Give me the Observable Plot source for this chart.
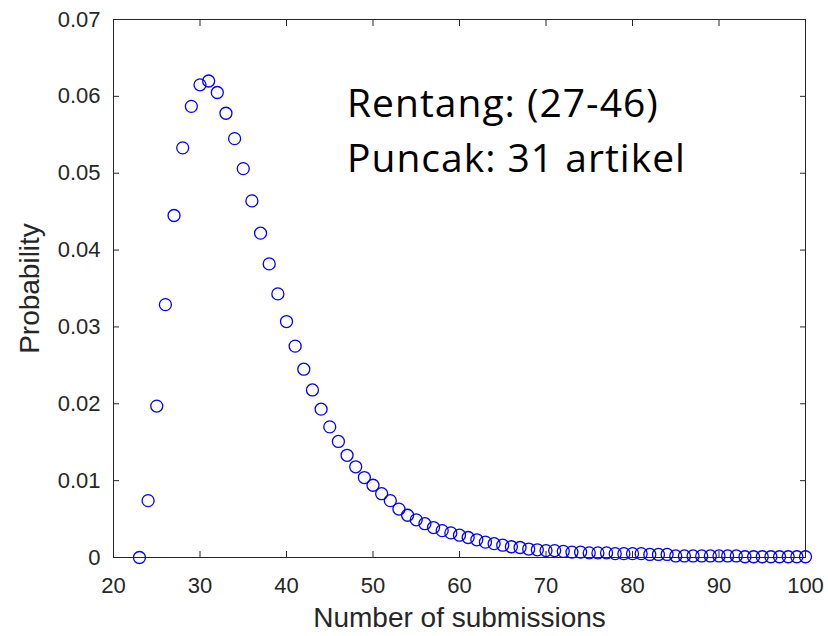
<!DOCTYPE html>
<html><head><meta charset="utf-8">
<script src="https://cdn.jsdelivr.net/npm/d3@7"></script>
<script src="https://cdn.jsdelivr.net/npm/@observablehq/plot@0.6"></script>
<style>body{margin:0;background:#fff;} #chart svg{display:block;}</style>
</head><body><div id="chart"></div>
<script>
const submissions = [23,24,25,26,27,28,29,30,31,32,33,34,35,36,37,38,39,40,41,42,43,44,45,46,47,48,49,50,51,52,53,54,55,56,57,58,59,60,61,62,63,64,65,66,67,68,69,70,71,72,73,74,75,76,77,78,79,80,81,82,83,84,85,86,87,88,89,90,91,92,93,94,95,96,97,98,99,100];
const probability = [0.0000,0.0074,0.0197,0.0329,0.0445,0.0533,0.0587,0.0615,0.0620,0.0605,0.0578,0.0545,0.0506,0.0464,0.0422,0.0382,0.0343,0.0307,0.0275,0.0245,0.0218,0.0193,0.0170,0.0151,0.0133,0.0118,0.0104,0.0094,0.0083,0.0074,0.0063,0.0055,0.0049,0.0044,0.0039,0.0035,0.0032,0.0029,0.0026,0.0023,0.0020,0.0018,0.0016,0.0014,0.0013,0.0011,0.0010,0.0009,0.0009,0.0008,0.0007,0.0007,0.0006,0.0006,0.0006,0.0005,0.0005,0.0005,0.0005,0.0004,0.0004,0.0004,0.0002,0.0002,0.0002,0.0002,0.0002,0.0002,0.0002,0.0002,0.0001,0.0001,0.0001,0.0001,0.0001,0.0001,0.0001,0.0001];
const xTicks = [20,30,40,50,60,70,80,90,100];
const xTickLabels = ["20","30","40","50","60","70","80","90","100"];
const yTicks = [0,0.01,0.02,0.03,0.04,0.05,0.06,0.07];
const yTickLabels = ["0","0.01","0.02","0.03","0.04","0.05","0.06","0.07"];
const xLabel = "Number of submissions";
const yLabel = "Probability";
const annotationLines = ["Rentang: (27-46)", "Puncak: 31 artikel"];
const annotationX = [47, 47];
const annotationY = [0.0573, 0.0502];

const points = submissions.map((s, i) => ({s, p: probability[i]}));
const axisColor = "#262626";

const chart = Plot.plot({
  width: 828, height: 636,
  marginLeft: 113, marginRight: 23, marginTop: 19, marginBottom: 79,
  style: {fontFamily: "'Liberation Sans', Arial, sans-serif", fontSize: "22px", color: axisColor, background: "#fff", overflow: "visible"},
  x: {domain: [20, 100]},
  y: {domain: [0, 0.07]},
  marks: [
    Plot.frame({stroke: axisColor, strokeWidth: 1}),
    Plot.axisX(xTicks, {anchor: "bottom", tickSize: -6, tickPadding: 26, label: null, tickFormat: (d, i) => xTickLabels[i], fontSize: 22, fill: axisColor, stroke: axisColor}),
    Plot.axisX(xTicks, {anchor: "top", tickSize: -6, tickPadding: 0, label: null, tickFormat: () => "", stroke: axisColor}),
    Plot.axisY(yTicks, {anchor: "left", tickSize: -6, tickPadding: 19, label: null, tickFormat: (d, i) => yTickLabels[i], fontSize: 22, fill: axisColor, stroke: axisColor}),
    Plot.axisY(yTicks, {anchor: "right", tickSize: -6, tickPadding: 0, label: null, tickFormat: () => "", stroke: axisColor}),
    Plot.dot(points, {x: "s", y: "p", r: 6, stroke: "#0000ff", strokeWidth: 1.3, fill: "none"}),
    Plot.text([xLabel], {text: d => d, frameAnchor: "bottom", textAnchor: "middle", dy: 69, lineAnchor: "bottom", fontSize: 28, fill: axisColor}),
    Plot.text([yLabel], {text: d => d, frameAnchor: "left", textAnchor: "middle", dx: -75, rotate: -90, lineAnchor: "bottom", fontSize: 28, fill: axisColor}),
    Plot.text(annotationLines, {text: d => d, x: (d, i) => annotationX[i], y: (d, i) => annotationY[i], textAnchor: "start", lineAnchor: "bottom", fontSize: 39, fontFamily: "'Open Sans', sans-serif", fill: "#000"})
  ]
});
d3.select(chart).selectAll("text")
  .filter(function() { return annotationLines.includes(this.textContent); })
  .attr("letter-spacing", "1px");
document.getElementById("chart").appendChild(chart);
</script>
</body></html>
